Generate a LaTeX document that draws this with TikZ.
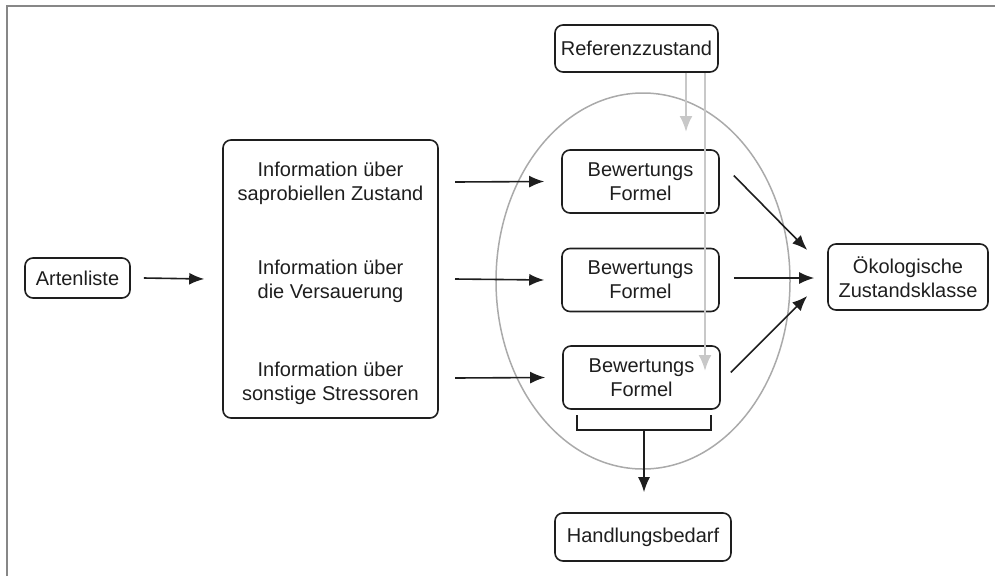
\documentclass[tikz,border=0pt]{standalone}
\usepackage{fontspec}
\setmainfont{Liberation Sans}
\usepackage{tikz}
\usetikzlibrary{arrows,arrows.meta,calc,shapes}
\tikzset{>={Latex[length=15pt,width=12pt]}}
\definecolor{framegray}{RGB}{135,135,135}
\definecolor{ringgray}{RGB}{170,170,170}
\definecolor{refgray}{RGB}{200,200,200}
\definecolor{inkgray}{RGB}{30,30,30}
\tikzset{
  box/.style={draw=inkgray, line width=1.6pt, rounded corners=8pt, align=center, inner sep=0pt},
  flow/.style={->, line width=1.6pt, inkgray},
  refflow/.style={->, line width=2.4pt, refgray, >={Latex[length=16pt,width=13pt]}}
}

\begin{document}
\begin{tikzpicture}[x=1pt, y=-1pt, font=\fontsize{20}{24}\selectfont, text=inkgray]
    \useasboundingbox (0,0) rectangle (995,576);
    % cut frame
    \draw[framegray, line width=2pt] (7,576) -- (7,6) -- (995,6);

    % ring round the formulas
    \draw[ringgray, line width=1.5pt] (643,281) ellipse (147 and 188);

    % boxes
    \node[box, minimum width=105pt, minimum height=40pt] (arten) at (77.5,278) {Artenliste};
    \node[box, minimum width=215pt, minimum height=278pt] (info) at (330.5,279) {};
    \node[align=center] (infoA) at (330.5,183) {Information über\\saprobiellen Zustand};
    \node[align=center] (infoB) at (330.5,281) {Information über\\die Versauerung};
    \node[align=center] (infoC) at (330.5,383) {Information über\\sonstige Stressoren};
    \node[box, minimum width=163pt, minimum height=47pt] (ref) at (636.5,48.5) {Referenzzustand};
    \node[box, minimum width=157pt, minimum height=63pt] (bewA) at (640.5,181.5) {Bewertungs\\Formel};
    \node[box, minimum width=157pt, minimum height=63pt] (bewB) at (640.5,280) {Bewertungs\\Formel};
    \node[box, minimum width=157pt, minimum height=63pt] (bewC) at (641.5,377.5) {Bewertungs\\Formel};
    \node[box, minimum width=160pt, minimum height=66pt] (oeko) at (908,277) {Ökologische\\Zustandsklasse};
    \node[box, minimum width=176pt, minimum height=48pt] (handl) at (643,537) {Handlungsbedarf};

    % reference arrows
    \draw[refflow] (ref.south -| 686,0) -- (686,132);
    \draw[refflow] (ref.south -| 705,0) -- (705,371);

    % main flow
    \draw[flow] ($(arten.east)+(13,0)$) -- ($(info.west)+(-18,0)$);
    \draw[flow] (455,182) -- ($(bewA.west)+(-17,0)$);
    \draw[flow] (455,279) -- ($(bewB.west)+(-17,0)$);
    \draw[flow] (455,378) -- ($(bewC.west)+(-17,0)$);
    \draw[flow] ($(bewA.east)+(14,-6)$) -- ($(oeko.west)+(-20,-27)$);
    \draw[flow] ($(bewB.east)+(14,-2)$) -- ($(oeko.west)+(-13,1)$);
    \draw[flow] ($(bewC.east)+(10,-5)$) -- ($(oeko.west)+(-20,19)$);

    % bracket under the last formula
    \draw[inkgray, line width=1.6pt] (577,415) -- (577,430) -- (711,430) -- (711,415);
    \draw[flow] (644,430) -- ($(handl.north)+(1,-20)$);
\end{tikzpicture}
\end{document}
